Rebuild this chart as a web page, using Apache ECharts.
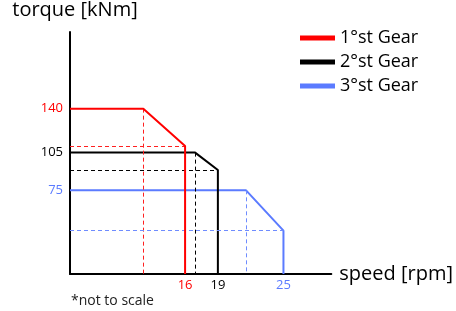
<!DOCTYPE html>
<html>
<head>
<meta charset="utf-8">
<script src="https://cdn.jsdelivr.net/npm/echarts@6/dist/echarts.min.js"></script>
<style>
  html, body { margin: 0; padding: 0; background: #fff; }
  #main { width: 456px; height: 311px; }
</style>
</head>
<body>
<div id="main"></div>
<script>
// gears and their curves (speed in rpm, torque in kNm, schematic)
var gearNames = ['1°st Gear', '2°st Gear', '3°st Gear'];
var gearColors = ['#ff0000', '#000000', '#5b7bff'];
var dashColors = ['#ff2020', '#000000', '#6f8cff'];
var maxTorque = [140, 105, 75];        // flat part
var kneeSpeed = [12.18, 16.92, 21.58]; // end of flat part
var maxSpeed = [16, 19, 25];           // vertical cut-off
var endTorque = [110.25, 91.2, 42.9];  // torque at cut-off

// axis ranges (the drawing is not to scale)
var speedMin = 5.47, speedMax = 29.38;
var torqueMin = 8.4, torqueMax = 201;
var speedTicks = [16, 19, 25];
var torqueTicks = [140, 105, 75];

var FONT = 'Open Sans';

function colorFor(ticks, v) {
    var i = ticks.indexOf(Number(v));
    return i >= 0 ? ['r', 'k', 'b'][i] : 'k';
}
var rich = {
    r: { color: gearColors[0], fontSize: 13, fontFamily: FONT },
    k: { color: gearColors[1], fontSize: 13, fontFamily: FONT },
    b: { color: gearColors[2], fontSize: 13, fontFamily: FONT }
};

function drawChart() {
    var myChart = echarts.init(document.getElementById('main'));

    var series = [];
    for (var i = 0; i < gearNames.length; i++) {
        var dash = { type: [4, 3], width: 1, color: dashColors[i], opacity: 1 };
        series.push({
            name: gearNames[i],
            type: 'line',
            z: 5 - i,
            symbol: 'none',
            silent: true,
            color: gearColors[i],
            lineStyle: { width: 2, color: gearColors[i] },
            data: [
                [speedMin, maxTorque[i]],
                [kneeSpeed[i], maxTorque[i]],
                [maxSpeed[i], endTorque[i]],
                [maxSpeed[i], torqueMin]
            ],
            markLine: {
                silent: true,
                symbol: 'none',
                label: { show: false },
                emphasis: { disabled: true },
                lineStyle: dash,
                data: [
                    [{ coord: [speedMin, endTorque[i]], lineStyle: dash }, { coord: [maxSpeed[i], endTorque[i]] }],
                    [{ coord: [kneeSpeed[i], maxTorque[i]], lineStyle: dash }, { coord: [kneeSpeed[i], torqueMin] }]
                ]
            }
        });
    }

    var option = {
        animation: false,
        textStyle: { fontFamily: FONT },
        title: {
            text: '*not to scale',
            left: 66,
            top: 289,
            textStyle: { fontFamily: FONT, fontSize: 14, fontWeight: 'normal', color: '#222' }
        },
        legend: {
            orient: 'vertical',
            left: 295,
            top: 24,
            icon: 'rect',
            itemWidth: 35,
            itemHeight: 5,
            itemGap: 6,
            textStyle: { fontFamily: FONT, fontSize: 18, color: '#000' },
            data: gearNames
        },
        grid: { left: 70, right: 124, top: 31, bottom: 37, containLabel: false },
        xAxis: {
            type: 'value',
            min: speedMin,
            max: speedMax,
            name: 'speed [rpm]',
            nameLocation: 'end',
            nameGap: 8,
            nameTextStyle: { fontFamily: FONT, fontSize: 20, color: '#000' },
            axisLine: { show: true, lineStyle: { color: '#000', width: 2 } },
            axisTick: { show: false },
            splitLine: { show: false },
            axisLabel: {
                customValues: speedTicks,
                margin: 5,
                formatter: function (v) { return '{' + colorFor(speedTicks, v) + '|' + v + '}'; },
                rich: rich
            }
        },
        yAxis: {
            type: 'value',
            min: torqueMin,
            max: torqueMax,
            name: 'torque [kNm]',
            nameLocation: 'end',
            nameGap: 12,
            nameTextStyle: { fontFamily: FONT, fontSize: 20, color: '#000', padding: [0, 0, 0, 10] },
            axisLine: { show: true, lineStyle: { color: '#000', width: 2 } },
            axisTick: { show: false },
            splitLine: { show: false },
            axisLabel: {
                customValues: torqueTicks,
                margin: 7,
                formatter: function (v) { return '{' + colorFor(torqueTicks, v) + '|' + v + '}'; },
                rich: rich
            }
        },
        series: series
    };

    myChart.setOption(option);
}

drawChart();
</script>
</body>
</html>
